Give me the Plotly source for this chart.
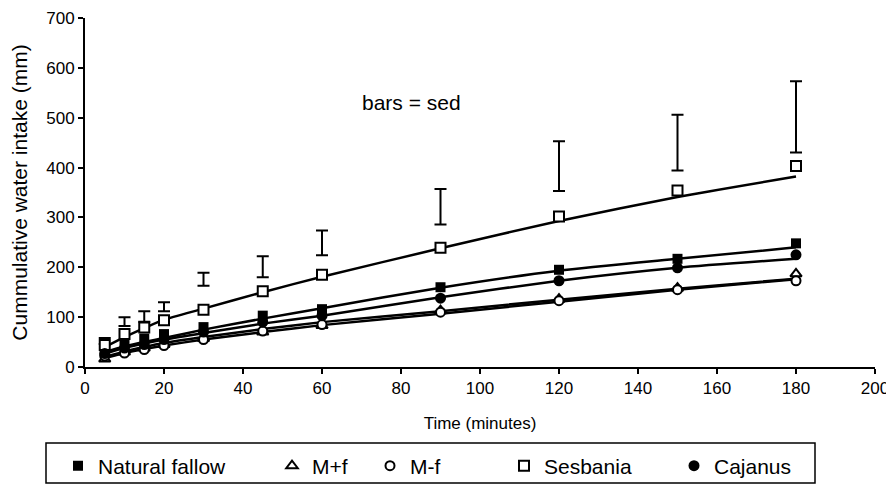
import plotly.graph_objects as go

time_min = [5, 10, 15, 20, 30, 45, 60, 90, 120, 150, 180]

# observed cumulative intake (mm)
natural_fallow = [33, 47, 57, 66, 80, 103, 116, 160, 195, 217, 248]
m_plus_f = [16, 30, 38, 45, 57, 70, 83, 113, 136, 158, 187]
m_minus_f = [22, 28, 35, 43, 55, 72, 85, 110, 133, 155, 173]
sesbania = [44, 66, 79, 94, 115, 152, 185, 239, 302, 354, 403]
cajanus = [27, 38, 45, 55, 70, 90, 103, 138, 173, 199, 225]

# fitted curves
fit_natural_fallow = [30, 41, 50, 58, 75, 97, 118, 159, 193, 217, 240]
fit_m_plus_f = [20, 31, 40, 48, 60, 76, 90, 112, 135, 157, 177]
fit_m_minus_f = [18, 28, 36, 43, 55, 70, 84, 107, 131, 155, 176]
fit_sesbania = [40, 60, 78, 95, 117, 150, 181, 238, 293, 341, 382]
fit_cajanus = [27, 38, 47, 55, 68, 87, 103, 140, 173, 199, 217]

# standard error of difference bars (bottom, top)
sed_bottom = [46, 82, 91, 112, 163, 180, 224, 286, 353, 394, 430]
sed_top = [58, 100, 112, 130, 189, 222, 274, 357, 453, 506, 573]

legend_names = ["Natural fallow", "M+f", "M-f", "Sesbania", "Cajanus"]

FONT = "Arial, Liberation Sans, sans-serif"
BLACK = "black"

fig = go.Figure()

fits = [fit_natural_fallow, fit_m_plus_f, fit_m_minus_f, fit_sesbania, fit_cajanus]
for f in fits:
    fig.add_trace(go.Scatter(x=time_min, y=f, mode="lines",
                             line=dict(color=BLACK, width=2.5, shape="spline", smoothing=0.6),
                             showlegend=False, hoverinfo="skip"))

# sed bars
fig.add_trace(go.Scatter(
    x=time_min, y=sed_bottom, mode="markers", marker=dict(size=1, color="rgba(0,0,0,0)"),
    error_y=dict(type="data", symmetric=False,
                 array=[t - b for t, b in zip(sed_top, sed_bottom)],
                 arrayminus=[0] * len(sed_bottom), color=BLACK, thickness=2, width=6),
    showlegend=False, hoverinfo="skip"))

series = [
    (natural_fallow, dict(symbol="square", size=10, color=BLACK), "legend"),
    (m_plus_f, dict(symbol="triangle-up", size=10, color="white", line=dict(color=BLACK, width=2)), "legend2"),
    (m_minus_f, dict(symbol="circle", size=9, color="white", line=dict(color=BLACK, width=2)), "legend3"),
    (sesbania, dict(symbol="square", size=10, color="white", line=dict(color=BLACK, width=2)), "legend4"),
    (cajanus, dict(symbol="circle", size=11, color=BLACK), "legend5"),
]

for (vals, mk, lg), name in zip(series, legend_names):
    fig.add_trace(go.Scatter(x=time_min, y=vals, mode="markers", name=name, marker=mk, legend=lg))

# the page body adds an 8px offset; work in figure pixels = screen pixels - 8
OFF = 8
FIG_W, FIG_H = 894 - OFF, 485 - OFF
x0_px, plot_w = 85 - OFF, 790
y0_px, plot_h = 367 - OFF, 349


def px_x(p):
    return (p - OFF - x0_px) / plot_w


def px_y(p):
    return (y0_px - (p - OFF)) / plot_h


leg_common = dict(orientation="h", bgcolor="rgba(0,0,0,0)", borderwidth=0,
                  font=dict(family=FONT, size=21, color=BLACK), xanchor="left", yanchor="middle",
                  itemsizing="trace")
leg_left = [58, 272, 370, 504, 674]
legend_keys = ["legend", "legend2", "legend3", "legend4", "legend5"]
legend_layout = {}
for key, lx in zip(legend_keys, leg_left):
    legend_layout[key] = dict(leg_common, x=px_x(lx), y=px_y(466))

fig.update_layout(
    width=FIG_W, height=FIG_H,
    margin=dict(l=x0_px, r=FIG_W - x0_px - plot_w, t=y0_px - plot_h, b=FIG_H - y0_px, autoexpand=False),
    paper_bgcolor="white", plot_bgcolor="white",
    font=dict(family=FONT, color=BLACK),
    xaxis=dict(range=[0, 200], dtick=20, tick0=0, showgrid=False, zeroline=False, automargin=False,
               showline=True, linecolor=BLACK, linewidth=2, ticks="outside", ticklen=5,
               tickwidth=2, tickcolor=BLACK, tickfont=dict(size=17, family=FONT),
               ticklabeloverflow="allow",
               title=dict(text="Time (minutes)", font=dict(size=17, family=FONT), standoff=20)),
    yaxis=dict(range=[0, 700], dtick=100, tick0=0, showgrid=False, zeroline=False, automargin=False,
               showline=True, linecolor=BLACK, linewidth=2, ticks="outside", ticklen=5,
               tickwidth=2, tickcolor=BLACK, tickfont=dict(size=17, family=FONT),
               ticklabeloverflow="allow",
               title=dict(text="Cummulative water intake (mm)", font=dict(size=21, family=FONT), standoff=14)),
    shapes=[dict(type="rect", xref="paper", yref="paper", x0=px_x(46), x1=px_x(815), y0=px_y(443), y1=px_y(483),
                 line=dict(color=BLACK, width=1.5), fillcolor="rgba(0,0,0,0)")],
    annotations=[dict(x=82.7, y=531, xref="x", yref="y", text="bars = sed", showarrow=False,
                      font=dict(size=21, family=FONT, color=BLACK))],
    **legend_layout,
)

fig.write_html("out.html")
